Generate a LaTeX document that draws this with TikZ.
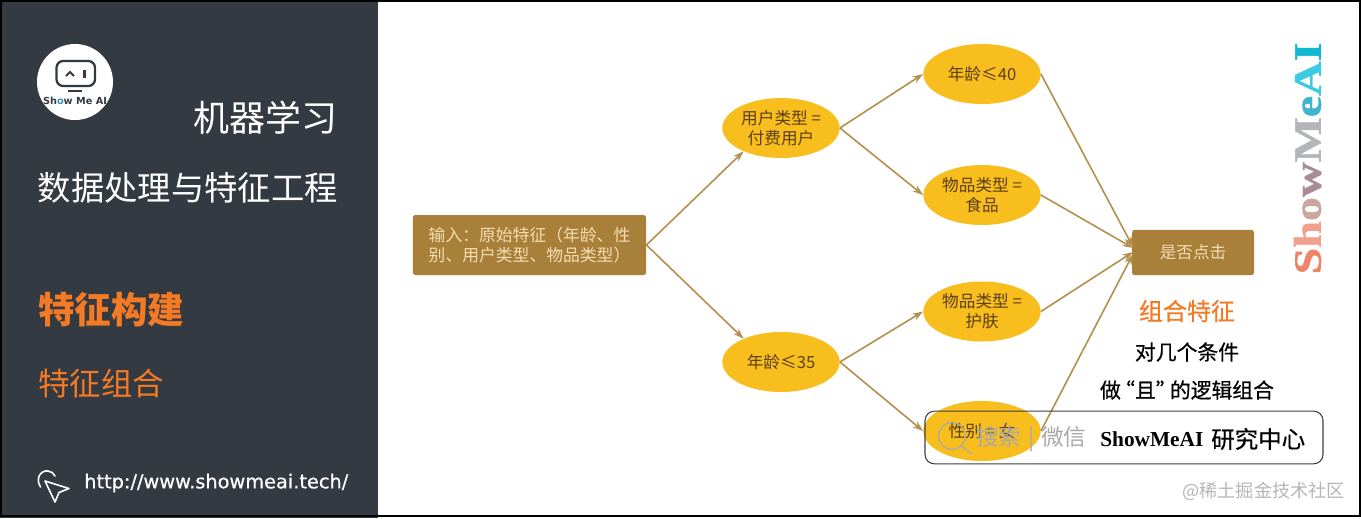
\documentclass[tikz,border=0pt]{standalone}
\usepackage{fontspec}
\setmainfont{Noto Sans CJK SC}
\newfontfamily\urlfont[FakeBold=0.6]{DejaVu Sans}
\newfontfamily\logofont{DejaVu Sans}
\newfontfamily\brandfont[BoldFeatures={FakeBold=1}]{Liberation Serif}
\newfontfamily\wmfont{Liberation Serif}
\newfontfamily\medfont[FakeBold=0.5]{Noto Sans CJK SC}
\usetikzlibrary{arrows.meta,shapes.geometric,calc}
\definecolor{panel}{HTML}{343A42}
\definecolor{accent}{HTML}{F47A25}
\definecolor{goldfill}{HTML}{F8BE1E}
\definecolor{brownfill}{HTML}{A9803A}
\definecolor{linkcol}{HTML}{B3904F}
\definecolor{inktext}{HTML}{5C4018}
\definecolor{paletext}{HTML}{F1DDB0}
\definecolor{wmgray}{HTML}{A9A9A9}
\tikzset{
  x=0.75pt,y=-0.75pt,
  cond/.style={ellipse,fill=goldfill,minimum width=88pt,minimum height=45pt,inner sep=0pt,align=center,text=inktext,font={\fontsize{12.5}{15}\selectfont}},
  brownbox/.style={rectangle,rounded corners=2pt,fill=brownfill,inner sep=0pt,align=center,text=paletext},
  link/.style={draw=linkcol,line width=1.2pt,-{Stealth[length=8pt,width=5.5pt]}},
  label/.style={inner sep=0pt,anchor=west},
}
\begin{document}
\begin{tikzpicture}
\useasboundingbox (0,0) rectangle (1361,518);
\fill[white] (0,0) rectangle (1361,518);
\fill[panel] (0,0) rectangle (378,518);
\draw[black,line width=1.5pt] (0.5,0.5) rectangle (1360,516);

% logo
\node[circle,fill=white,minimum size=57pt,inner sep=0pt] (logo) at (75,82) {};
\draw[panel,line width=1.7pt,rounded corners=5pt] (56.5,61) rectangle (95,86);
\draw[panel,line width=1.5pt] (66,76) -- (70,72) -- (74,76);
\draw[panel,line width=1.7pt] (84.5,70) -- (84.5,78);
\draw[panel,line width=1.5pt] (68,91) -- (82,91);
\node[inner sep=0pt,font=\logofont\bfseries\fontsize{7.3}{8}\selectfont,text=panel] (logotext) at (75,101) {Sh\textcolor{cyan!70!black}{o}w Me AI};

% left titles
\node[label,anchor=east,text=white,font=\fontsize{27}{32}\selectfont] (t1) at (338,118) {机器学习};
\node[label,anchor=east,text=white,font=\fontsize{25}{30}\selectfont] (t2) at (338,188) {数据处理与特征工程};
\node[label,text=accent,font=\bfseries\fontsize{27.4}{32}\selectfont] (t3) at (38,310) {特征构建};
\node[label,text=accent,font=\fontsize{23.6}{28}\selectfont] (t4) at (38,383) {特征组合};
\node[label,text=white,font=\urlfont\fontsize{14.5}{17}\selectfont] (url) at (84,483) {http://www.showmeai.tech/};

% cursor icon
\draw[white,line width=1.2pt,line join=round] (45,481) -- (69,488.5) -- (59,492.5) -- (55,502) -- cycle;
\draw[white,line width=1.2pt,line cap=round] (40.5,487) .. controls (35,478) and (41,470) .. (48,471) .. controls (51,471.5) and (54,473) .. (55,476);

% diagram nodes
\node[brownbox,minimum width=175pt,minimum height=45pt,font=\fontsize{12.6}{14.6}\selectfont] (input) at (529.5,245)
  {输入：原始特征（年龄、性\\别、用户类型、物品类型）};
\node[cond] (user) at (781,128) {用户类型 =\\付费用户};
\node[cond] (age35) at (781,362) {年龄≤35};
\node[cond] (age40) at (982,74) {年龄≤40};
\node[cond] (food) at (982,195) {物品类型 =\\食品};
\node[cond] (skin) at (982,311.5) {物品类型 =\\护肤};
\node[cond] (sex) at (982,431) {性别 = 女};
\node[brownbox,minimum width=91.5pt,minimum height=34pt,font=\fontsize{12.4}{15}\selectfont] (click) at (1193,252.5) {是否点击};

\coordinate (in1) at (1133,247);
\coordinate (in2) at (1133,248);
\coordinate (in3) at (1133,252);
\coordinate (in4) at (1133,254);
\draw[link] (input.east) -- (user.212);
\draw[link] (input.east) -- (age35.148);
\draw[link] (user.east) -- (age40.west);
\draw[link] (user.east) -- (food.west);
\draw[link] (age35.east) -- (skin.west);
\draw[link] (age35.east) -- (sex.west);
\draw[link] (age40.east) -- (in1);
\draw[link] (food.east) -- (in2);
\draw[link] (skin.east) -- (in3);
\draw[link] (sex.east) -- (in4);

% annotation
\node[text=accent,inner sep=0pt,font=\medfont\fontsize{18}{22}\selectfont] (ann1) at (1187,311) {组合特征};
\node[text=black,inner sep=0pt,font=\medfont\fontsize{15.6}{19}\selectfont] (ann2) at (1187,352) {对几个条件};
\node[text=black,inner sep=0pt,font=\medfont\fontsize{15.6}{19}\selectfont] (ann3) at (1187,390) {做\kern-0.32em“且”\kern-0.32em的逻辑组合};

% brand text
\node[inner sep=0pt,rotate=90,font=\brandfont\bfseries\fontsize{33}{36}\selectfont] (brand) at (1307.5,158.5) {\scalebox{1.09}[0.88]{%
  \textcolor[HTML]{EE8468}{S}\textcolor[HTML]{F0A08C}{h}\textcolor[HTML]{C9A79B}{o}\textcolor[HTML]{A78C96}{w}\textcolor[HTML]{B3B5B8}{M}\textcolor[HTML]{3DB5CE}{e}\textcolor[HTML]{3CCBE0}{A}\textcolor[HTML]{12B8D0}{I}}};

% watermark
\node[draw=black!75,line width=0.8pt,rounded corners=7pt,minimum width=298.5pt,minimum height=39.5pt,inner sep=0pt] (wm) at (1124,437.5) {};
\draw[wmgray,line width=0.9pt] (952,436) circle[radius=13.5];
\draw[wmgray,line width=0.9pt] (961,446) -- (972,454);
\node[label,text=wmgray,font=\fontsize{17}{20}\selectfont] (wm1) at (976,439) {搜索\hspace{5pt}|\hspace{5pt}微信};
\node[label,text=black,font=\wmfont\bfseries\fontsize{16}{19}\selectfont] (wm2) at (1100,439) {ShowMeAI};
\node[label,text=black,font=\medfont\fontsize{17.6}{21}\selectfont] (wm3) at (1211,439) {研究中心};
\node[anchor=east,inner sep=0pt,text=wmgray!85,font=\fontsize{13.6}{16}\selectfont] (juejin) at (1345,491) {@稀土掘金技术社区};
\end{tikzpicture}
\end{document}
